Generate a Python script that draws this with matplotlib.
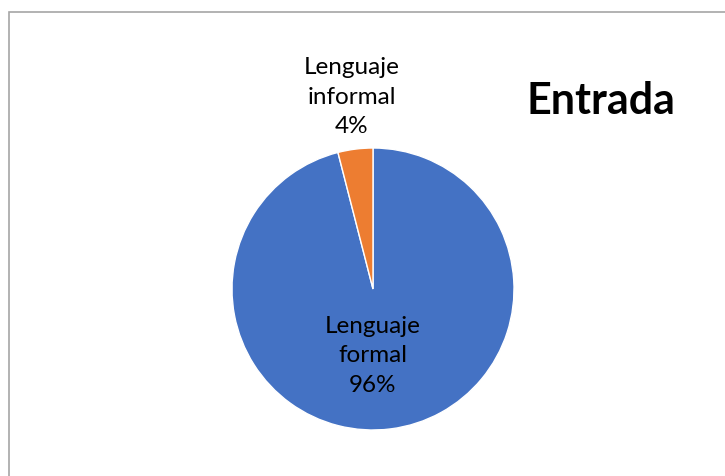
import matplotlib
matplotlib.use("Agg")
import matplotlib.pyplot as plt
from matplotlib.patches import Rectangle

categories = ["Lenguaje\nformal", "Lenguaje\ninformal"]
values = [96, 4]
colors = ["#4472C4", "#ED7D31"]
title = "Entrada"

W, H = 725, 476
fig = plt.figure(figsize=(W / 100, H / 100), dpi=100)
fig.patch.set_facecolor("white")

# outer frame (extends beyond the image at right/bottom)
fig.add_artist(Rectangle((8.5 / W, -0.1), 2.0, 1 - 11.5 / H + 0.1,
                         transform=fig.transFigure, fill=False,
                         edgecolor="#A6A6A6", linewidth=1.2))

cx, cy, r = 373, 289, 141
ax = fig.add_axes([(cx - r) / W, (H - cy - r) / H, 2 * r / W, 2 * r / H])
ax.pie(values, colors=colors, startangle=90, counterclock=False,
       radius=1, wedgeprops=dict(edgecolor="white", linewidth=1))
ax.set_xlim(-1, 1)
ax.set_ylim(-1, 1)
ax.set_aspect("equal")
ax.axis("off")

font = "Lato"
label_pos = [(0.0, -(356 - cy) / r), (-(373 - 352) / r, (cy - 97) / r)]
for cat, v, (x, y) in zip(categories, values, label_pos):
    ax.text(x, y, f"{cat}\n{v}%", ha="center", va="center", fontsize=17.5,
            family=font, color="black", linespacing=1.5)

fig.text(601 / W, 1 - 101 / H, title, ha="center", va="center",
         fontsize=31, fontweight="bold", family=font)

fig.savefig("out.png", dpi=100)
